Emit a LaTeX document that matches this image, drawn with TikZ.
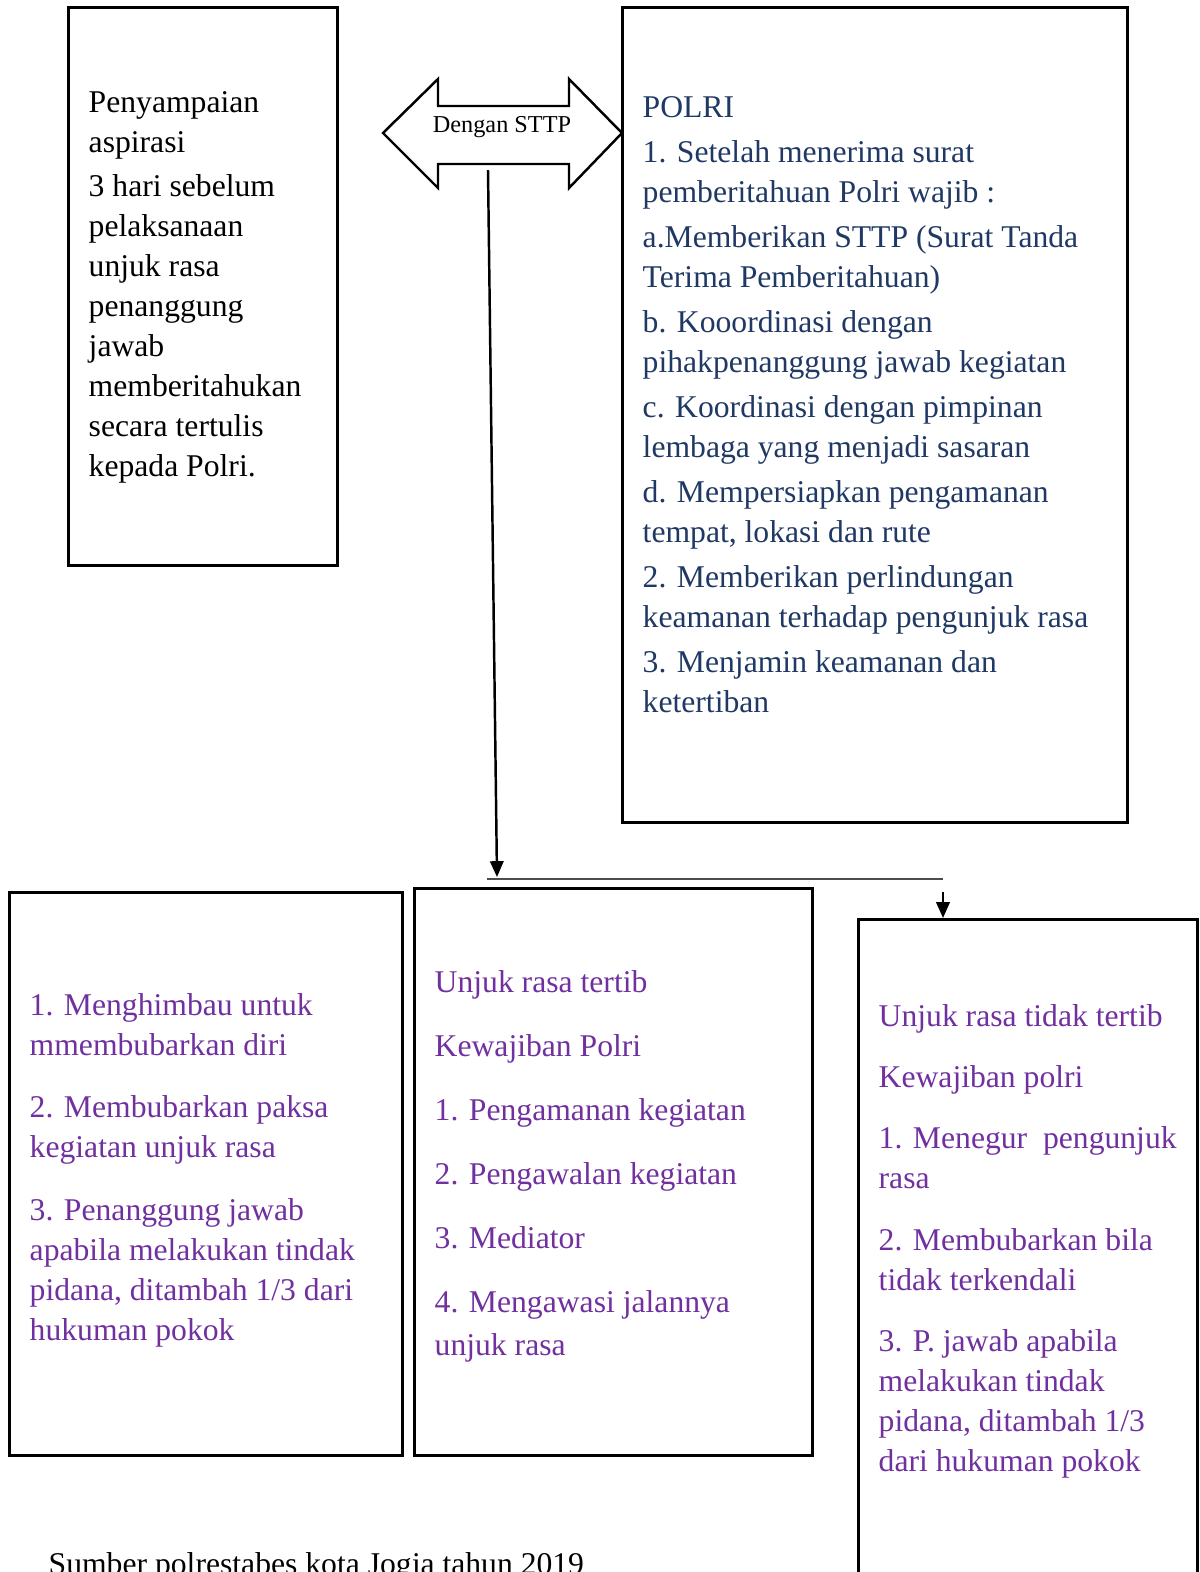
\documentclass[tikz,border=0pt]{standalone}
\usepackage{fontspec}
\setmainfont{Liberation Serif}
\usetikzlibrary{arrows.meta}
\definecolor{polriblue}{HTML}{1F3864}
\definecolor{ungu}{HTML}{7030A0}
\tikzset{
  box/.style={draw, line width=0.8pt, anchor=north west, inner sep=0pt},
  isi/.style={anchor=north west, align=left, inner sep=0pt, font=\fontsize{9}{11.38}\selectfont,
    execute at begin node=\strut},
  panah/.style={line width=0.7pt, -{Triangle[length=4.5pt,width=3.8pt]}},
}

\begin{document}
\begin{tikzpicture}[x=0.01cm, y=-0.01cm]
\clip (0,0) rectangle (1199,1572);
% kotak atas
\node[box, minimum width=2.69cm, minimum height=5.58cm] (aspirasi) at (67,6) {};
\node[box, minimum width=5.05cm, minimum height=8.15cm] (polri) at (621,6) {};
% kotak bawah
\node[box, minimum width=3.93cm, minimum height=5.63cm] (bubar) at (8,891) {};
\node[box, minimum width=3.98cm, minimum height=5.67cm] (tertib) at (413,887) {};
\node[box, minimum width=3.39cm, minimum height=7.00cm] (tidaktertib) at (857,918) {};
% isi kotak
\node[isi] (teksaspirasi) at (88,91) {Penyampaian\\ aspirasi\\[1.1pt] 3 hari sebelum\\ pelaksanaan\\ unjuk rasa\\ penanggung\\ jawab\\ memberitahukan\\ secara tertulis\\ kepada Polri.};
\node[isi, text=polriblue] (tekspolri) at (642,96) {POLRI\\[1.4pt] 1. Setelah menerima surat\\ pemberitahuan Polri wajib :\\[1.4pt] a.Memberikan STTP (Surat Tanda\\ Terima Pemberitahuan)\\[1.4pt] b. Kooordinasi dengan\\ pihakpenanggung jawab kegiatan\\[1.4pt] c. Koordinasi dengan pimpinan\\ lembaga yang menjadi sasaran\\[1.4pt] d. Mempersiapkan pengamanan\\ tempat, lokasi dan rute\\[1.4pt] 2. Memberikan perlindungan\\ keamanan terhadap pengunjuk rasa\\[1.4pt] 3. Menjamin keamanan dan\\ ketertiban};
\node[isi, text=ungu] (teksbubar) at (29,993) {1. Menghimbau untuk\\ mmembubarkan diri\\[6.3pt] 2. Membubarkan paksa\\ kegiatan unjuk rasa\\[6.3pt] 3. Penanggung jawab\\ apabila melakukan tindak\\ pidana, ditambah 1/3 dari\\ hukuman pokok};
\node[isi, text=ungu] (tekstertib) at (434,970) {Unjuk rasa tertib\\[6.8pt] Kewajiban Polri\\[6.8pt] 1. Pengamanan kegiatan\\[6.8pt] 2. Pengawalan kegiatan\\[6.8pt] 3. Mediator\\[6.8pt] 4. Mengawasi jalannya\\[0.9pt] unjuk rasa};
\node[isi, text=ungu] (tekstidak) at (878,1004) {Unjuk rasa tidak tertib\\[6pt] Kewajiban polri\\[6pt] 1. Menegur\ \ pengunjuk\\ rasa\\[6pt] 2. Membubarkan bila\\ tidak terkendali\\[6pt] 3. P. jawab apabila\\ melakukan tindak\\ pidana, ditambah 1/3\\ dari hukuman pokok};
% panah dua arah
\draw[line width=0.7pt] (383,133) -- (438,79) -- (438,106) -- (569,106) -- (569,79) -- (622,133)
  -- (569,188) -- (569,164) -- (438,164) -- (438,188) -- cycle;
\node[font=\fontsize{6.9}{8}\selectfont, inner sep=0pt] (sttp) at (502,127) {Dengan STTP};
% alur ke bawah
\coordinate (turun) at (488,170);
\coordinate (cabang) at (497,877);
\draw[panah] (turun) -- (cabang);
\coordinate (gariskiri) at (487,879);
\coordinate (gariskanan) at (943,879);
\draw[line width=0.6pt, black!70] (gariskiri) -- (gariskanan);
\coordinate (cabangdua) at (943,892);
\draw[panah] (cabangdua) -- (cabangdua |- tidaktertib.north);
%
\node[isi, anchor=base west] (sumber) at (48,1574) {Sumber polrestabes kota Jogja tahun 2019};
\end{tikzpicture}
\end{document}
